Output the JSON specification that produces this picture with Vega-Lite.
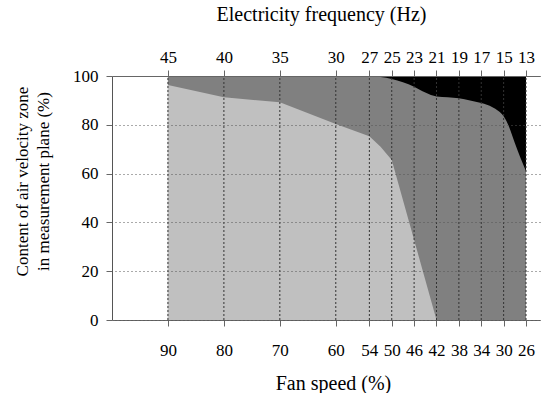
{
  "$schema": "https://vega.github.io/schema/vega-lite/v6.json",
  "width": 428,
  "height": 244,
  "autosize": {"type": "none"},
  "padding": {"left": 112, "top": 76, "right": 2, "bottom": 73},
  "background": "white",
  "config": {
    "view": {"stroke": null},
    "font": "Liberation Serif, Times New Roman, serif",
    "axis": {
      "labelFont": "Liberation Serif, Times New Roman, serif",
      "titleFont": "Liberation Serif, Times New Roman, serif",
      "labelFontSize": 17,
      "titleFontSize": 20,
      "titleFontWeight": "normal",
      "labelColor": "#000000",
      "titleColor": "#000000",
      "domainColor": "#666666",
      "tickColor": "#666666",
      "gridColor": "#555555",
      "gridDash": [1, 3],
      "gridWidth": 1,
      "zindex": 1
    }
  },
  "datasets": {
    "black": [
      {"speed": 90, "v": 100},
      {"speed": 26, "v": 100}
    ],
    "dark": [
      {"speed": 90, "v": 100},
      {"speed": 80, "v": 100},
      {"speed": 70, "v": 100},
      {"speed": 60, "v": 100},
      {"speed": 54, "v": 100},
      {"speed": 52, "v": 99.6},
      {"speed": 50, "v": 98.8},
      {"speed": 48, "v": 97.4},
      {"speed": 46, "v": 95.6},
      {"speed": 44, "v": 93.2},
      {"speed": 42, "v": 91.6},
      {"speed": 40, "v": 91.3},
      {"speed": 38, "v": 90.9},
      {"speed": 36, "v": 90},
      {"speed": 34, "v": 88.9},
      {"speed": 32, "v": 87.2},
      {"speed": 31, "v": 85.8},
      {"speed": 30, "v": 83.5},
      {"speed": 29, "v": 79},
      {"speed": 28, "v": 72.5},
      {"speed": 27, "v": 66.5},
      {"speed": 26, "v": 61}
    ],
    "light": [
      {"speed": 90, "v": 96.3},
      {"speed": 80, "v": 91.3},
      {"speed": 70, "v": 89.2},
      {"speed": 60, "v": 80.3},
      {"speed": 54, "v": 75.3},
      {"speed": 52, "v": 71},
      {"speed": 50, "v": 65.6},
      {"speed": 42, "v": 0}
    ],
    "gridx": [
      {"speed": 90, "lo": 0, "hi": 100}, {"speed": 80, "lo": 0, "hi": 100},
      {"speed": 70, "lo": 0, "hi": 100}, {"speed": 60, "lo": 0, "hi": 100},
      {"speed": 54, "lo": 0, "hi": 100}, {"speed": 50, "lo": 0, "hi": 100},
      {"speed": 46, "lo": 0, "hi": 100}, {"speed": 42, "lo": 0, "hi": 100},
      {"speed": 38, "lo": 0, "hi": 100}, {"speed": 34, "lo": 0, "hi": 100},
      {"speed": 30, "lo": 0, "hi": 100}, {"speed": 26, "lo": 0, "hi": 100}
    ]
  },
  "layer": [
    {
      "data": {"name": "black"},
      "mark": {"type": "area", "color": "#000000"},
      "encoding": {
        "x": {
          "field": "speed",
          "type": "quantitative",
          "scale": {"domain": [23.5, 100], "reverse": true, "nice": false, "zero": false},
          "axis": {
            "orient": "bottom",
            "values": [90, 80, 70, 60, 54, 50, 46, 42, 38, 34, 30, 26],
            "format": "d",
            "tickSize": 6,
            "labelPadding": 16,
            "labelOverlap": false,
            "labelFlush": false,
            "grid": false,
            "title": "Fan speed (%)",
            "titlePadding": 15,
            "titleX": 221
          }
        },
        "y": {
          "field": "v",
          "type": "quantitative",
          "scale": {"domain": [0, 100], "nice": false},
          "axis": {
            "values": [0, 20, 40, 60, 80, 100],
            "tickSize": 6,
            "labelPadding": 8,
            "grid": true,
            "zindex": 1,
            "domainColor": "#555555",
            "title": ["Content of air velocity zone", "in measurement plane (%)"],
            "titleFontSize": 17,
            "titleLineHeight": 21,
            "titleAngle": -90,
            "titleAlign": "center",
            "titleBaseline": "middle",
            "titleX": -90,
            "titleY": 105
          }
        }
      }
    },
    {
      "data": {"name": "dark"},
      "mark": {"type": "area", "color": "#808080", "interpolate": "monotone"},
      "encoding": {
        "x": {
          "field": "speed",
          "type": "quantitative",
          "scale": {"domain": [23.5, 100], "reverse": true, "nice": false, "zero": false},
          "axis": {
            "orient": "top",
            "values": [90, 80, 70, 60, 54, 50, 46, 42, 38, 34, 30, 26],
            "labelExpr": "datum.value / 2",
            "tickSize": 6,
            "labelPadding": 4,
            "labelOverlap": false,
            "labelFlush": false,
            "grid": false,
            "zindex": 1,
            "title": "Electricity frequency (Hz)",
            "titlePadding": 24,
            "titleX": 209
          }
        },
        "y": {"field": "v", "type": "quantitative"}
      }
    },
    {
      "data": {"name": "light"},
      "mark": {"type": "area", "color": "#c0c0c0"},
      "encoding": {
        "x": {
          "field": "speed",
          "type": "quantitative",
          "scale": {"domain": [23.5, 100], "reverse": true, "nice": false, "zero": false},
          "axis": null
        },
        "y": {"field": "v", "type": "quantitative"}
      }
    },
    {
      "data": {"name": "gridx"},
      "mark": {"type": "rule", "color": "#333333", "strokeWidth": 1, "strokeDash": [2, 2]},
      "encoding": {
        "x": {
          "field": "speed",
          "type": "quantitative",
          "scale": {"domain": [23.5, 100], "reverse": true, "nice": false, "zero": false},
          "axis": null
        },
        "y": {"field": "lo", "type": "quantitative"},
        "y2": {"field": "hi"}
      }
    }
  ],
  "resolve": {"axis": {"x": "independent"}}
}
